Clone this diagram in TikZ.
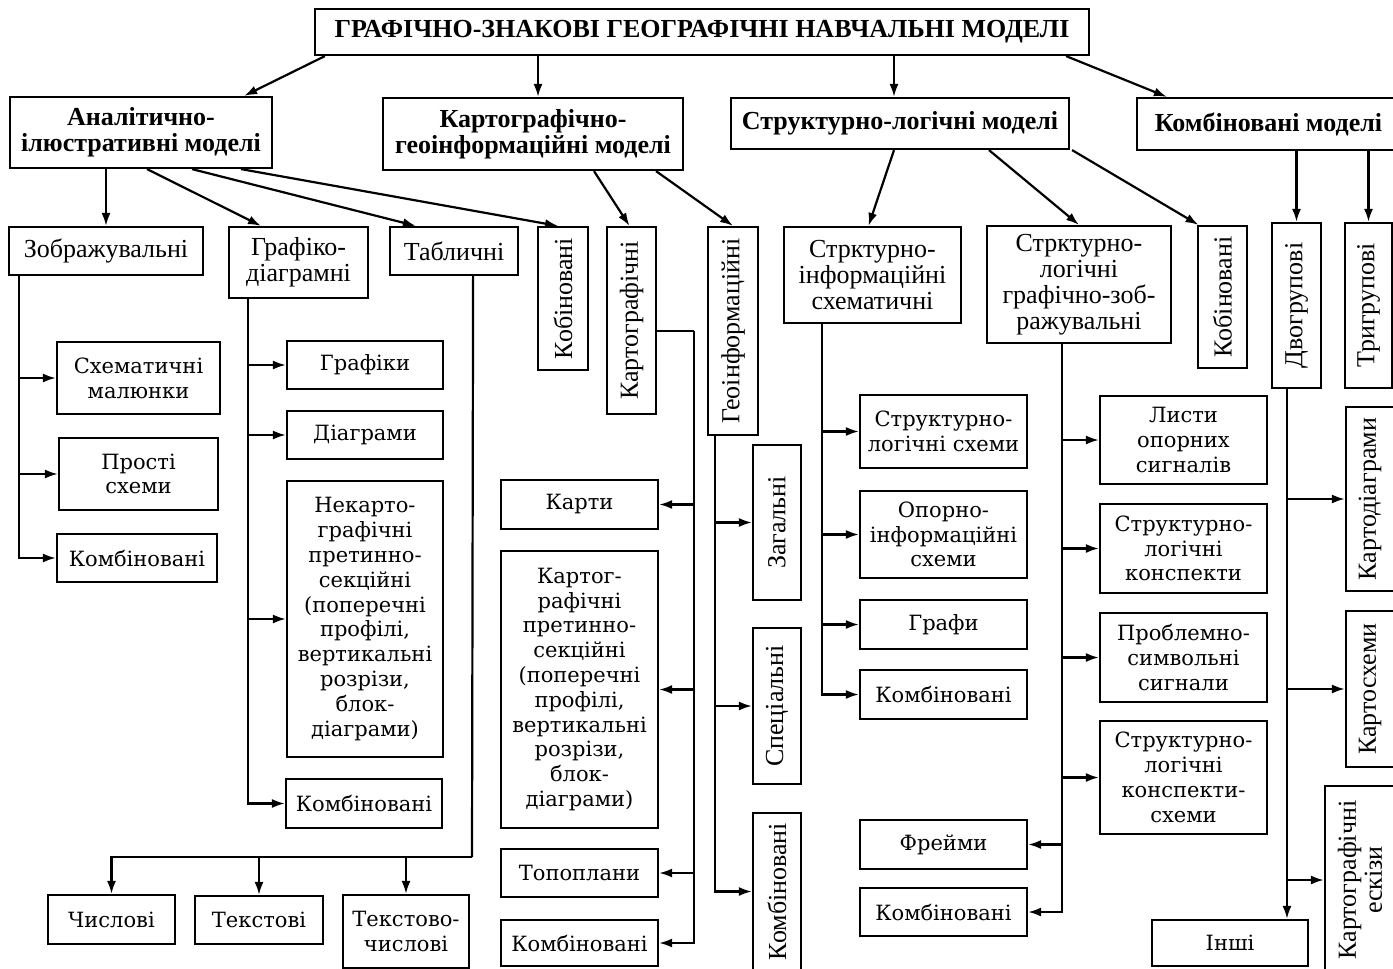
\documentclass[tikz,border=0pt]{standalone}
\usepackage{fontspec}
\setmainfont{Liberation Serif}
\newfontfamily\wideserif{DejaVu Serif}
\usetikzlibrary{arrows.meta}
\newcommand{\nfont}{\fontsize{13pt}{13pt}\selectfont}
\newcommand{\wfont}{\wideserif\fontsize{10.5pt}{12.4pt}\selectfont}
\newcommand{\hfont}{\bfseries\fontsize{13pt}{13pt}\selectfont}

\begin{document}
\begin{tikzpicture}[x=0.5pt, y=-0.5pt]
\tikzstyle{box}=[draw, line width=1.1pt, inner sep=0pt, align=center]
\tikzstyle{nbox}=[box, font=\nfont]
\tikzstyle{wbox}=[box, font=\wfont]
\tikzstyle{hbox}=[box, font=\hfont]
\tikzstyle{vbox}=[nbox, rotate=90]
\tikzstyle{connect}=[-{Latex[length=6.5pt,width=4.5pt]}, line width=1.1pt]
\tikzset{sz/.style 2 args={minimum width=#1*0.5pt, minimum height=#2*0.5pt}}
\useasboundingbox (0,0) rectangle (1393,969);

% headings
\node[hbox, sz={774}{46}] (title) at (702,32) {ГРАФІЧНО-ЗНАКОВІ ГЕОГРАФІЧНІ НАВЧАЛЬНІ МОДЕЛІ};
\node[hbox, sz={262}{71}] (anil) at (141,132.5) {Аналітично-\\ілюстративні моделі};
\node[hbox, sz={300}{72}] (kartgeo) at (533,134) {Картографічно-\\геоінформаційні моделі};
\node[hbox, sz={338}{51}] (strl) at (900,123.5) {Структурно-логічні моделі};
\node[hbox, sz={263}{52}] (komb) at (1268.5,124) {Комбіновані моделі};

% second row
\node[nbox, sz={194}{48}] (zobr) at (106,251) {Зображувальні};
\node[nbox, sz={139}{71}] (grafd) at (298.5,262.5) {Графіко-\\діаграмні};
\node[nbox, sz={128}{48}] (tabl) at (454,251) {Табличні};
\node[vbox, sz={143}{50}] (kob1) at (563,298.5) {Кобіновані};
\node[vbox, sz={187}{49}] (kartv) at (631.5,320.5) {Картографічні};
\node[vbox, sz={208}{50}] (geov) at (733,331) {Геоінформаційні};
\node[nbox, sz={177}{96}] (sis) at (872.5,275) {Стрктурно-\\інформаційні\\схематичні};
\node[nbox, sz={184}{117}] (slg) at (1079,284.5) {Стрктурно-\\логічні\\графічно-зоб-\\ражувальні};
\node[vbox, sz={142}{49}] (kob2) at (1222.5,297) {Кобіновані};
\node[vbox, sz={165}{49}] (dvo) at (1296.5,305.5) {Двогрупові};
\node[vbox, sz={165}{47}] (tri) at (1368.5,305.5) {Тригрупові};

% analytic branch
\node[wbox, sz={163}{72}] (skm) at (138.5,378) {Схематичні\\малюнки};
\node[wbox, sz={159}{72}] (prs) at (138.5,474) {Прості\\схеми};
\node[wbox, sz={160}{48}] (kmb1) at (137,558) {Комбіновані};
\node[wbox, sz={156}{48}] (grf) at (365,365) {Графіки};
\node[wbox, sz={156}{48}] (dgr) at (365,435) {Діаграми};
\node[wbox, sz={156}{276}] (nek) at (365,619) {Некарто-\\графічні\\претинно-\\секційні\\(поперечні\\профілі,\\вертикальні\\розрізи,\\блок-\\діаграми)};
\node[wbox, sz={156}{49}] (kmb2) at (364,803.5) {Комбіновані};
\node[wbox, sz={127}{49}] (chs) at (111.5,919.5) {Числові};
\node[wbox, sz={128}{48}] (tks) at (259,920) {Текстові};
\node[wbox, sz={126}{73}] (tkc) at (406,931.5) {Текстово-\\числові};

% cartographic branch
\node[wbox, sz={157}{49}] (krt) at (579.5,504.5) {Карти};
\node[wbox, sz={157}{277}] (kpr) at (579.5,689.5) {Картог-\\рафічні\\претинно-\\секційні\\(поперечні\\профілі,\\вертикальні\\розрізи,\\блок-\\діаграми)};
\node[wbox, sz={157}{48}] (tpp) at (579.5,873) {Топоплани};
\node[wbox, sz={157}{46}] (kmb3) at (579.5,943) {Комбіновані};
\node[vbox, sz={155}{48}] (zag) at (777,522.5) {Загальні};
\node[vbox, sz={156}{48}] (spc) at (777,706) {Спеціальні};
\node[vbox, sz={157}{48}] (kmb4) at (777,891.5) {Комбіновані};

% structural branch
\node[wbox, sz={167}{73}] (sls) at (943.5,431.5) {Структурно-\\логічні схеми};
\node[wbox, sz={167}{87}] (ois) at (943.5,534.5) {Опорно-\\інформаційні\\схеми};
\node[wbox, sz={167}{49}] (grfy) at (943.5,624.5) {Графи};
\node[wbox, sz={167}{49}] (kmb5) at (943.5,694.5) {Комбіновані};
\node[wbox, sz={167}{49}] (frm) at (943.5,844.5) {Фрейми};
\node[wbox, sz={167}{48}] (kmb6) at (943.5,912) {Комбіновані};
\node[wbox, sz={167}{88}] (los) at (1183.5,440) {Листи\\опорних\\сигналів};
\node[wbox, sz={167}{89}] (slk) at (1183.5,548.5) {Структурно-\\логічні\\конспекти};
\node[wbox, sz={167}{89}] (pss) at (1183.5,657.5) {Проблемно-\\символьні\\сигнали};
\node[wbox, sz={167}{113}] (slks) at (1183.5,777.5) {Структурно-\\логічні\\конспекти-\\схеми};

% combined branch
\node[vbox, sz={184}{48}] (kdg) at (1370,499) {Картодіаграми};
\node[vbox, sz={156}{48}] (ksh) at (1370,689) {Картосхеми};
\node[vbox, sz={188}{70}] (kes) at (1360,880) {Картографічні\\ескізи};
\node[wbox, sz={156}{46}] (insh) at (1230,943) {Інші};

% links from the headings
\draw[connect] ([xshift=5.5pt]title.south west) -- ([xshift=-14.5pt]anil.north east);
\draw[connect] ([xshift=2.5pt]kartgeo.north |- title.south) -- ([xshift=2.5pt]kartgeo.north);
\draw[connect] ([xshift=-3pt]strl.north |- title.south) -- ([xshift=-3pt]strl.north);
\draw[connect] ([xshift=-12pt]title.south east) -- ([xshift=15.5pt]komb.north west);
\draw[connect] (anil.south -| zobr.north) -- (zobr.north);
\draw[connect] ([xshift=3pt]anil.south) -- ([xshift=-18.75pt]grafd.north);
\draw[connect] ([xshift=25.5pt]anil.south) -- ([xshift=13.5pt]tabl.north west);
\draw[connect] ([xshift=50pt]anil.south) -- ([xshift=-2.5pt]kob1.east);
\draw[connect] ([xshift=30.5pt]kartgeo.south) -- ([xshift=-1pt]kartv.east);
\draw[connect] ([xshift=61.5pt]kartgeo.south) -- (geov.east);
\draw[connect] ([xshift=-3pt]strl.south) -- ([xshift=-2pt]sis.north);
\draw[connect] ([xshift=44.5pt]strl.south) -- (slg.north);
\draw[connect] ([xshift=1pt]strl.south east) -- ([xshift=-12pt]kob2.east);
\draw[connect] (komb.south -| dvo.east) -- (dvo.east);
\draw[connect] (komb.south -| tri.east) -- (tri.east);

% stems
\coordinate (zobrS) at ([xshift=5.5pt]zobr.south west);
\coordinate (grafdS) at ([xshift=10pt]grafd.south west);
\coordinate (tablS) at ([xshift=-23pt]tabl.south east);
\coordinate (tablB) at (472,857);
\coordinate (kartS) at (694,331);
\coordinate (geoS) at ([xshift=-9pt]geov.west);
\coordinate (sisS) at ([xshift=19.5pt]sis.south west);
\coordinate (slgS) at ([xshift=-8.5pt]slg.south);
\coordinate (dvoS) at ([xshift=-4.75pt]dvo.west);

\foreach \n in {skm,prs,kmb1} \draw[connect] (zobrS) |- (\n);
\foreach \n in {grf,dgr,nek,kmb2} \draw[connect] (grafdS) |- (\n);
\draw[line width=1.1pt] (tablS) -- (tablB);
\foreach \n in {chs,tks,tkc} \draw[connect] (tablB) -| (\n);
\draw[line width=1.1pt] (kartS -| kartv.south) -- (kartS);
\foreach \n in {krt,kpr,tpp,kmb3} \draw[connect] (kartS) |- (\n);
\foreach \n in {zag,spc,kmb4} \draw[connect] (geoS) |- (\n);
\foreach \n in {sls,ois,grfy,kmb5} \draw[connect] (sisS) |- (\n);
\foreach \n in {los,slk,pss,slks,frm,kmb6} \draw[connect] (slgS) |- (\n);
\foreach \n in {kdg,ksh,kes} \draw[connect] (dvoS) |- (\n);
\draw[connect] (dvoS) -- (dvoS |- insh.north);
\end{tikzpicture}
\end{document}
